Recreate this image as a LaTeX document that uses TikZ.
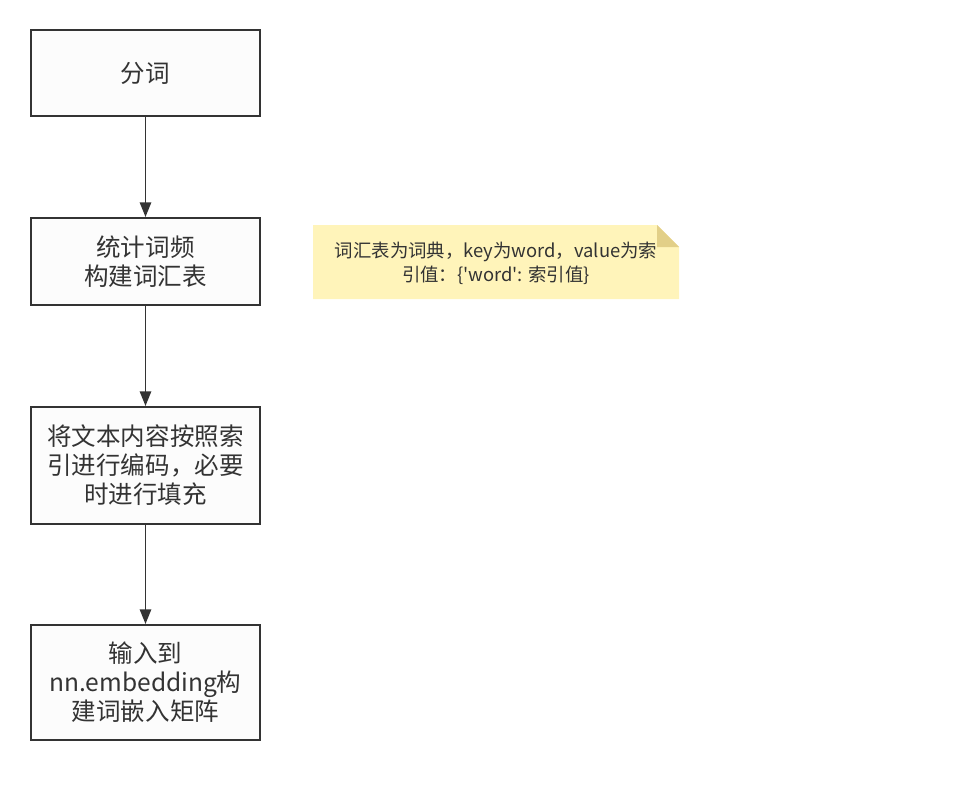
\documentclass[tikz,border=0pt]{standalone}
\usepackage{fontspec}
\setmainfont{Noto Sans CJK SC}[Ligatures=TeXOff]
\usetikzlibrary{arrows.meta,positioning}
\definecolor{ink}{HTML}{333333}
\definecolor{notefill}{HTML}{FFF4BA}
\definecolor{notefold}{HTML}{E2CF88}
\tikzset{
  stepbox/.style={draw=ink,line width=1.5pt,fill=white!98!gray,text=ink,
    minimum width=171.75pt,align=center,font=\fontsize{18.4}{21.75}\selectfont},
  link/.style={-{Triangle[length=11pt,width=8.5pt]},draw=ink,line width=1.4pt},
}
\begin{document}
\begin{tikzpicture}[x=0.75pt,y=-0.75pt]
\useasboundingbox (0,0) rectangle (969,788);
\node[stepbox,minimum height=64.5pt] (seg) at (145.5,73) {分词};
\node[stepbox,minimum height=65.25pt] (vocab) at (145.5,261.5) {统计词频\\构建词汇表};
\node[stepbox,minimum height=87.75pt] (encode) at (145.5,465.5) {将文本内容按照索\\引进行编码，必要\\时进行填充};
\node[stepbox,minimum height=86.25pt] (embed) at (145.5,682.5) {输入到\\nn.embedding构\\建词嵌入矩阵};
\draw[link] (seg) -- (vocab);
\draw[link] (vocab) -- (encode);
\draw[link] (encode) -- (embed);
% note
\fill[notefill] (313,225) -- (657,225) -- (679,247) -- (679,299) -- (313,299) -- cycle;
\fill[notefold] (657,225) -- (679,247) -- (657,247) -- cycle;
\node[text=ink,align=center,font=\fontsize{13.8}{18}\selectfont] (note) at (496,263)
  {词汇表为词典，key为word，value为索\\引值：\{'word': 索引值\}};
\end{tikzpicture}
\end{document}
